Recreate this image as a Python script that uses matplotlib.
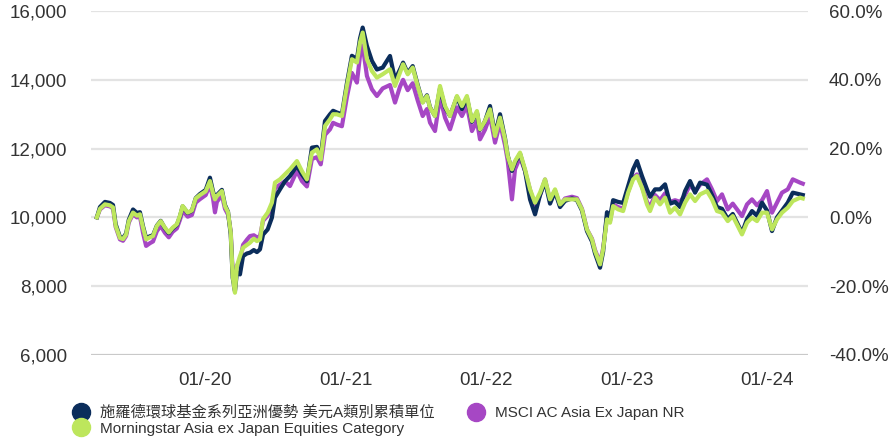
import numpy as np
import matplotlib
matplotlib.use("Agg")
import matplotlib.pyplot as plt
import matplotlib.dates as mdates
from matplotlib.lines import Line2D
from matplotlib.ticker import FixedLocator, FuncFormatter

plt.rcParams['font.family'] = ['Liberation Sans', 'Noto Sans CJK TC', 'DejaVu Sans']

dates = [
    "2019-03-26", "2019-04-03", "2019-04-16", "2019-04-29", "2019-05-07", "2019-05-14", "2019-05-25",
    "2019-06-02", "2019-06-10", "2019-06-17", "2019-06-28", "2019-07-08", "2019-07-16", "2019-07-24",
    "2019-08-01", "2019-08-11", "2019-08-19", "2019-08-29", "2019-09-08", "2019-09-19", "2019-09-29",
    "2019-10-09", "2019-10-20", "2019-10-28", "2019-11-04", "2019-11-17", "2019-11-28", "2019-12-08",
    "2019-12-19", "2020-01-03", "2020-01-14", "2020-01-22", "2020-01-27", "2020-02-01", "2020-02-14",
    "2020-02-22", "2020-03-01", "2020-03-08", "2020-03-13", "2020-03-19", "2020-03-24", "2020-04-01",
    "2020-04-09", "2020-04-19", "2020-04-27", "2020-05-07", "2020-05-15", "2020-05-23", "2020-05-31",
    "2020-06-12", "2020-06-23", "2020-07-01", "2020-07-14", "2020-07-27", "2020-08-09", "2020-08-27",
    "2020-09-09", "2020-09-22", "2020-10-05", "2020-10-18", "2020-10-28", "2020-11-08", "2020-11-21",
    "2020-11-29", "2020-12-09", "2020-12-22", "2021-01-04", "2021-01-17", "2021-01-30", "2021-02-07",
    "2021-02-14", "2021-02-25", "2021-03-10", "2021-03-23", "2021-04-07", "2021-04-26", "2021-05-09",
    "2021-05-22", "2021-05-30", "2021-06-11", "2021-06-24", "2021-07-07", "2021-07-20", "2021-07-31",
    "2021-08-08", "2021-08-21", "2021-09-03", "2021-09-16", "2021-09-29", "2021-10-17", "2021-10-30",
    "2021-11-12", "2021-11-25", "2021-12-08", "2021-12-16", "2021-12-29", "2022-01-11", "2022-01-24",
    "2022-02-06", "2022-02-19", "2022-02-26", "2022-03-09", "2022-03-17", "2022-03-30", "2022-04-12",
    "2022-04-25", "2022-05-08", "2022-05-21", "2022-06-03", "2022-06-16", "2022-06-29", "2022-07-12",
    "2022-07-25", "2022-08-12", "2022-08-25", "2022-09-07", "2022-09-20", "2022-10-03", "2022-10-11",
    "2022-10-24", "2022-11-01", "2022-11-11", "2022-11-19", "2022-11-27", "2022-12-10", "2022-12-23",
    "2023-01-05", "2023-01-18", "2023-01-28", "2023-02-10", "2023-02-23", "2023-03-03", "2023-03-16",
    "2023-03-29", "2023-04-11", "2023-04-24", "2023-05-07", "2023-05-20", "2023-06-02", "2023-06-15",
    "2023-06-28", "2023-07-11", "2023-07-29", "2023-08-11", "2023-08-24", "2023-09-06", "2023-09-21",
    "2023-10-04", "2023-10-28", "2023-11-10", "2023-11-23", "2023-12-06", "2023-12-19", "2024-01-01",
    "2024-01-14", "2024-01-27", "2024-02-09", "2024-02-24", "2024-03-08", "2024-03-27", "2024-04-03",
]

morningstar = [
    10000, 10250, 10380, 10350, 10290, 9750, 9400, 9370, 9500, 9890, 10140, 10050, 10090, 9700,
    9360, 9420, 9460, 9750, 9890, 9700, 9560, 9700, 9800, 10050, 10330, 10140, 10200, 10550,
    10650, 10760, 11056, 10700, 10524, 10620, 10765, 10329, 10146, 9563, 8292, 7809, 8583, 8874,
    9118, 9200, 9264, 9380, 9310, 9360, 9950, 10137, 10428, 11010, 11106, 11250, 11397, 11638,
    11347, 11106, 11883, 11979, 11688, 12657, 12852, 13000, 12997, 12948, 13821, 14600, 14502, 15084,
    15375, 14598, 14257, 14065, 14162, 14307, 13821, 14211, 14452, 14162, 14356, 13821, 13338, 13530,
    13192, 12948, 13821, 13239, 12948, 13530, 13239, 13530, 12802, 13093, 12561, 12802, 13143, 12366,
    12901, 12270, 11784, 11397, 11638, 11883, 11397, 10815, 10428, 10719, 11106, 10524, 10815, 10378,
    10524, 10524, 10524, 10233, 9651, 9360, 9019, 8632, 9069, 9942, 9846, 10329, 10233, 10184,
    10719, 11106, 11202, 10864, 10378, 10184, 10573, 10378, 10573, 10137, 10282, 10087, 10428, 10669,
    10475, 10669, 10765, 10524, 10184, 10137, 9892, 10038, 9505, 9846, 9991, 9892, 10137, 10137,
    9651, 9942, 10137, 10282, 10475, 10573, 10550,
]

fund = [
    10000, 10300, 10450, 10420, 10360, 9800, 9430, 9400, 9530, 9930, 10230, 10130, 10150, 9740,
    9400, 9450, 9480, 9760, 9900, 9680, 9540, 9680, 9780, 10030, 10320, 10130, 10190, 10560,
    10680, 10800, 11155, 10750, 10560, 10650, 10800, 10360, 10160, 9500, 8250, 7850, 8400, 8341,
    8874, 8950, 8973, 9050, 8990, 9069, 9500, 9650, 9991, 10573, 10815, 11050, 11202, 11500,
    11250, 11050, 12028, 12050, 11750, 12802, 12997, 13100, 13050, 13000, 13900, 14700, 14600, 15200,
    15520, 14985, 14550, 14300, 14356, 14694, 14000, 14300, 14500, 14200, 14400, 13850, 13350, 13550,
    13200, 12950, 13750, 13200, 12950, 13500, 13150, 13480, 12780, 13050, 12550, 12800, 13239, 12400,
    13000, 12300, 11800, 11350, 11600, 11850, 11350, 10524, 10087, 10650, 11050, 10400, 10750, 10300,
    10480, 10550, 10500, 10200, 9600, 9300, 8950, 8536, 9000, 10150, 10000, 10500, 10450, 10420,
    10911, 11397, 11638, 11202, 10815, 10600, 10815, 10815, 10960, 10400, 10450, 10300, 10765, 11056,
    10719, 11010, 10950, 10650, 10300, 10250, 9950, 10100, 9550, 9950, 10184, 10050, 10428, 10200,
    9602, 10000, 10200, 10428, 10719, 10669, 10650,
]

msci = [
    10000, 10230, 10350, 10320, 10260, 9720, 9360, 9320, 9460, 9850, 10100, 10000, 10030, 9550,
    9170, 9250, 9300, 9600, 9750, 9550, 9420, 9580, 9680, 9930, 10200, 10020, 10070, 10430,
    10530, 10650, 10960, 10550, 10146, 10450, 10650, 10250, 10080, 9600, 8400, 7900, 8600, 8700,
    9200, 9350, 9456, 9480, 9420, 9450, 9900, 10050, 10300, 10850, 10950, 11050, 10911, 11350,
    11056, 10900, 11700, 11750, 11542, 12400, 12561, 12750, 12700, 12650, 13500, 14200, 13920, 14700,
    15000, 14112, 13725, 13530, 13750, 13850, 13338, 13800, 14000, 13700, 13900, 13400, 12948, 13150,
    12756, 12511, 13500, 12900, 12561, 13200, 12948, 13250, 12511, 12800, 12270, 12550, 12950, 12174,
    12750, 12100, 11650, 10524, 11400, 11750, 11350, 10800, 10300, 10650, 11100, 10500, 10780, 10350,
    10550, 10600, 10560, 10250, 9650, 9380, 9050, 8680, 9100, 10000, 9900, 10380, 10300, 10250,
    10750, 11150, 11250, 10900, 10450, 10300, 10650, 10500, 10700, 10450, 10500, 10450, 10650, 10950,
    10750, 10950, 11106, 10815, 10475, 10669, 10233, 10400, 10038, 10378, 10524, 10350, 10500, 10765,
    10137, 10428, 10719, 10815, 11106, 11010, 10980,
]

labels = ["施羅德環球基金系列亞洲優勢 美元A類別累積單位",
          "MSCI AC Asia Ex Japan NR",
          "Morningstar Asia ex Japan Equities Category"]
colors = ["#0b2d5b", "#a647c4", "#bde65c"]

left_ticks = [6000, 8000, 10000, 12000, 14000, 16000]
right_ticks = [-40, -20, 0, 20, 40, 60]

d = np.array(dates, dtype="datetime64[D]")

fig = plt.figure(figsize=(8.93, 4.42), dpi=100)
ax = fig.add_axes([0.102, 0.197, 0.803, 0.778])

lw = 3.0
ax.plot(d, msci, color=colors[1], lw=lw, zorder=3, solid_joinstyle="round")
ax.plot(d, fund, color=colors[0], lw=lw, zorder=4, solid_joinstyle="round")
ax.plot(d, morningstar, color=colors[2], lw=lw, zorder=5, solid_joinstyle="round")

ax.set_ylim(6000, 16000)
x0 = np.datetime64("2020-01-01") - np.timedelta64(296, "D")
x1 = np.datetime64("2020-01-01") + np.timedelta64(1568, "D")
ax.set_xlim(x0, x1)

ax.yaxis.set_major_locator(FixedLocator(left_ticks))
ax.yaxis.set_major_formatter(FuncFormatter(lambda v, p: f"{int(v):,}"))
ax.xaxis.set_major_locator(mdates.YearLocator(1, month=1, day=1))
ax.xaxis.set_major_formatter(mdates.DateFormatter("%m/-%y"))

for v in left_ticks:
    ax.axhline(v, color="#c9c9c9" if v == 6000 else "#e3e3e3", lw=1.6, zorder=1)

for s in ax.spines.values():
    s.set_visible(False)
ax.tick_params(axis="both", length=0, labelsize=13.5, colors="#333333")
ax.tick_params(axis="y", pad=17)
ax.tick_params(axis="x", pad=12)

ax2 = ax.twinx()
ax2.set_ylim(-40, 60)
ax2.yaxis.set_major_locator(FixedLocator(right_ticks))
ax2.yaxis.set_major_formatter(FuncFormatter(lambda v, p: f"{v:.1f}%"))
for s in ax2.spines.values():
    s.set_visible(False)
ax2.tick_params(axis="y", length=0, labelsize=13.5, colors="#333333", pad=15)

handles = [Line2D([], [], marker="o", ls="none", color=colors[0], markersize=13),
           Line2D([], [], marker="o", ls="none", color=colors[2], markersize=13),
           Line2D([], [], marker="o", ls="none", color=colors[1], markersize=13)]
leg_labels = [labels[0], labels[2], labels[1]]
fig.legend(handles, leg_labels, ncol=2, loc="upper left", bbox_to_anchor=(0.0755, 0.1),
           frameon=False, fontsize=11.0, labelcolor="#333333", handlelength=0.8,
           handletextpad=0.85, columnspacing=2.3, labelspacing=0.1, borderpad=0)

fig.savefig("out.png", dpi=100)
